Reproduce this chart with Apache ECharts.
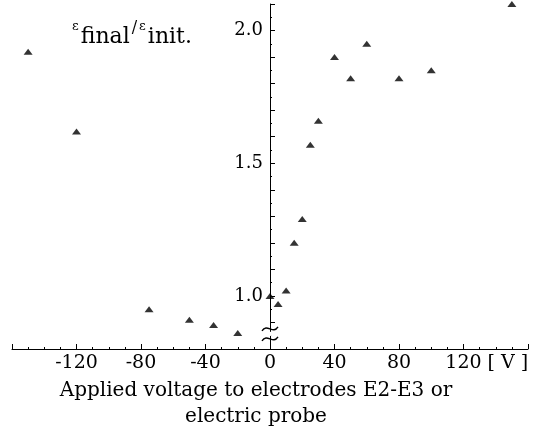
<!DOCTYPE html>
<html>
<head>
<meta charset="utf-8">
<script src="https://cdn.jsdelivr.net/npm/echarts@6/dist/echarts.min.js"></script>
<style>
  html, body { margin: 0; padding: 0; background: #fff; }
  #chart { width: 533px; height: 426px; }
</style>
</head>
<body>
<div id="chart"></div>
<script>
// applied voltage [V] and ratio eps_final / eps_init
var voltages = [-150, -120, -75, -50, -35, -20, 0, 5, 10, 15, 20, 25, 30, 40, 50, 60, 80, 100, 150];
var ratios = [1.92, 1.62, 0.95, 0.91, 0.89, 0.86, 1.00, 0.97, 1.02, 1.20, 1.29, 1.57, 1.66, 1.90, 1.82, 1.95, 1.82, 1.85, 2.10];
var xTickLabels = [-120, -80, -40, 0, 40, 80, 120];
var yTickLabels = [1.0, 1.5, 2.0];
var xTitle = 'Applied voltage to electrodes E2-E3 or\nelectric probe';

var serif = '"DejaVu Serif", "Liberation Serif", serif';
var ink = '#000';

var points = voltages.map(function (v, i) { return [v, ratios[i]]; });

var chart = echarts.init(document.getElementById('chart'));

var option = {
    backgroundColor: '#fff',
    animation: false,
    grid: { left: 12, right: 5, top: 4, bottom: 77, containLabel: false, outerBoundsMode: 'none' },
    xAxis: {
        type: 'value',
        min: -160,
        max: 160,
        interval: 40,
        name: '[ V ]',
        nameLocation: 'end',
        nameGap: -50,
        nameTextStyle: { color: ink, fontFamily: serif, fontSize: 19, align: 'left', verticalAlign: 'top', padding: [5, 0, 0, 0] },
        axisLine: { lineStyle: { color: ink, width: 1 } },
        axisTick: { inside: true, length: 5, lineStyle: { color: ink } },
        minorTick: { show: true, splitNumber: 4, length: 2, lineStyle: { color: ink } },
        splitLine: { show: false },
        axisLabel: {
            color: ink, fontFamily: serif, fontSize: 19, margin: 5,
            formatter: function (v) { return xTickLabels.indexOf(v) >= 0 ? String(v) : ''; }
        }
    },
    yAxis: {
        type: 'value',
        min: 0.8,
        max: 2.1,
        interval: 0.1,
        offset: 0,
        axisLine: { onZero: false, lineStyle: { color: ink, width: 1 } },
        axisTick: { inside: true, length: 5, lineStyle: { color: ink } },
        minorTick: { show: true, splitNumber: 2, length: 2, lineStyle: { color: ink } },
        splitLine: { show: false },
        axisLabel: {
            color: ink, fontFamily: serif, fontSize: 18, margin: 7,
            formatter: function (v) {
                for (var i = 0; i < yTickLabels.length; i++) {
                    if (Math.abs(v - yTickLabels[i]) < 1e-6) return yTickLabels[i].toFixed(1);
                }
                return '';
            }
        }
    },
    series: [{
        type: 'scatter',
        data: points,
        symbol: 'triangle',
        symbolSize: [9, 6],
        itemStyle: { color: ink }
    }]
};
chart.setOption(option);

// move the y axis (line, ticks, labels) to V = 0
var origin = chart.convertToPixel({ gridIndex: 0 }, [0, 0.8]);
var gridLeft = chart.convertToPixel({ gridIndex: 0 }, [-160, 0.8]);
chart.setOption({ yAxis: { offset: -(origin[0] - gridLeft[0]) } });

// axis break marks on the y axis + text decorations
var brkHi = chart.convertToPixel({ gridIndex: 0 }, [0, 0.876]);
var brkLo = chart.convertToPixel({ gridIndex: 0 }, [0, 0.838]);
function squiggle(id, p) {
    return {
        id: id, type: 'bezierCurve', z: 100,
        shape: { x1: p[0] - 8, y1: p[1] + 2, cpx1: p[0] - 3, cpy1: p[1] - 6, cpx2: p[0] + 3, cpy2: p[1] + 6, x2: p[0] + 8, y2: p[1] - 2 },
        style: { stroke: ink, lineWidth: 1.4, fill: null }
    };
}
chart.setOption({
    graphic: [
        { id: 'gap', type: 'rect', z: 99, shape: { x: brkHi[0] - 3, y: brkHi[1] + 3, width: 6, height: brkLo[1] - brkHi[1] - 6 }, style: { fill: '#fff' } },
        squiggle('brk1', brkHi),
        squiggle('brk2', brkLo),
        {
            id: 'ylab', type: 'text', z: 100,
            style: {
                x: 72, y: 20,
                text: '{e|ε}{s|final}{sl|/}{e|ε}{s|init.}',
                fill: ink,
                rich: {
                    e: { fontFamily: serif, fontSize: 13, fill: ink, verticalAlign: 'top', lineHeight: 13, padding: [0, 2, 0, 0] },
                    sl: { fontFamily: serif, fontSize: 16, fill: ink, verticalAlign: 'top', lineHeight: 16, padding: [0, 2, 0, 2] },
                    s: { fontFamily: serif, fontSize: 22, fill: ink, lineHeight: 28, verticalAlign: 'bottom' }
                }
            }
        },
        {
            id: 'xlab', type: 'text', z: 100,
            style: {
                x: 256, y: 378,
                text: xTitle,
                align: 'center',
                fontFamily: serif, fontSize: 20, lineHeight: 26,
                fill: ink
            }
        }
    ]
});
</script>
</body>
</html>
